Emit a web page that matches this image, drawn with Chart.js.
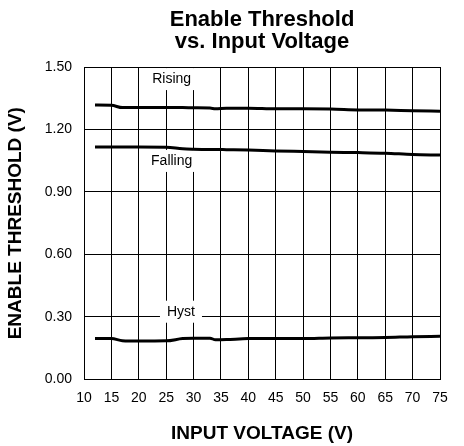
<!DOCTYPE html>
<html>
<head>
<meta charset="utf-8">
<script src="https://cdn.jsdelivr.net/npm/chart.js@4"></script>
<style>
  html, body { margin: 0; padding: 0; background: #fff; }
  #wrap { width: 464px; height: 446px; }
</style>
</head>
<body>
<div id="wrap"><canvas id="grafico" width="464" height="446"></canvas></div>
<script>
// input voltage (V)
var vin = [12, 15, 17, 20, 25, 28, 30, 33, 34, 36, 40, 45, 50, 55, 60, 65, 70, 75];
// enable threshold (V)
var rising = [1.317, 1.316, 1.305, 1.305, 1.305, 1.305, 1.304, 1.303, 1.299, 1.302, 1.302, 1.299, 1.299, 1.298, 1.294, 1.293, 1.290, 1.288];
var falling = [1.116, 1.116, 1.116, 1.116, 1.115, 1.107, 1.105, 1.104, 1.104, 1.103, 1.101, 1.097, 1.094, 1.091, 1.089, 1.086, 1.080, 1.077];
var hyst = [0.196, 0.196, 0.186, 0.184, 0.185, 0.196, 0.198, 0.198, 0.190, 0.191, 0.196, 0.196, 0.196, 0.199, 0.200, 0.201, 0.205, 0.207];
var seriesNames = ["Rising", "Falling", "Hyst"];
var xTicks = [10, 15, 20, 25, 30, 35, 40, 45, 50, 55, 60, 65, 70, 75];
var yTicks = [0, 0.3, 0.6, 0.9, 1.2, 1.5];
var titleLines = ["Enable Threshold", "vs. Input Voltage"];

var FONT = "'Liberation Sans', Arial, sans-serif";

function pts(ys) {
  return vin.map(function (v, i) { return { x: v, y: ys[i] }; });
}

// curve labels sitting on white boxes over the grid
var labelSpots = [
  { x: 26.0, y: 1.442 },
  { x: 26.0, y: 1.049 },
  { x: 27.7, y: 0.325 }
];
var curveLabels = {
  id: "curveLabels",
  beforeDatasetsDraw: function (chart) {
    var c = chart.ctx, xs = chart.scales.x, ys = chart.scales.y;
    c.save();
    c.font = "14px " + FONT;
    c.textAlign = "center";
    c.textBaseline = "middle";
    seriesNames.forEach(function (name, i) {
      var px = xs.getPixelForValue(labelSpots[i].x);
      var py = ys.getPixelForValue(labelSpots[i].y);
      var w = c.measureText(name).width + 14;
      c.fillStyle = "#fff";
      c.fillRect(px - w / 2, py - 11, w, 22);
      c.fillStyle = "#000";
      c.fillText(name, px, py);
    });
    c.restore();
  }
};

// title centred over the plot area
var plotTitle = {
  id: "plotTitle",
  afterDraw: function (chart) {
    var c = chart.ctx, a = chart.chartArea;
    c.save();
    c.font = "bold 22px " + FONT;
    c.fillStyle = "#000";
    c.textAlign = "center";
    c.textBaseline = "alphabetic";
    titleLines.forEach(function (t, i) {
      c.fillText(t, (a.left + a.right) / 2, 26 + i * 22);
    });
    c.restore();
  }
};

var ctx = document.getElementById("grafico").getContext("2d");
var grafico = new Chart(ctx, {
  type: "line",
  data: {
    datasets: [rising, falling, hyst].map(function (ys, i) {
      return {
        label: seriesNames[i],
        data: pts(ys),
        borderColor: "#000",
        borderWidth: 3,
        pointRadius: 0,
        tension: 0.3,
        cubicInterpolationMode: "monotone",
        fill: false
      };
    })
  },
  options: {
    responsive: false,
    animation: false,
    layout: { padding: { top: 67, right: 24, bottom: 1, left: 4 } },
    plugins: {
      legend: { display: false },
      tooltip: { enabled: false },
      title: { display: false }
    },
    scales: {
      x: {
        type: "linear",
        min: 10,
        max: 75,
        afterBuildTicks: function (s) { s.ticks = xTicks.map(function (v) { return { value: v }; }); },
        ticks: {
          color: "#000",
          font: { family: FONT, size: 14 },
          padding: 10,
          maxRotation: 0
        },
        grid: { color: "#000", lineWidth: 1, drawTicks: false },
        border: { color: "#000", width: 1 },
        title: {
          display: true,
          text: "INPUT VOLTAGE (V)",
          color: "#000",
          font: { family: FONT, size: 19, weight: "bold" },
          padding: { top: 6, bottom: 0 }
        }
      },
      y: {
        min: 0,
        max: 1.5,
        afterBuildTicks: function (s) { s.ticks = yTicks.map(function (v) { return { value: v }; }); },
        ticks: {
          color: "#000",
          font: { family: FONT, size: 14 },
          padding: 12,
          callback: function (v) { return v.toFixed(2); }
        },
        grid: { color: "#000", lineWidth: 1, drawTicks: false },
        border: { color: "#000", width: 1 },
        title: {
          display: true,
          text: "ENABLE THRESHOLD (V)",
          color: "#000",
          font: { family: FONT, size: 19, weight: "bold" },
          padding: { top: 0, bottom: 6 }
        }
      }
    }
  },
  plugins: [curveLabels, plotTitle]
});
</script>
</body>
</html>
